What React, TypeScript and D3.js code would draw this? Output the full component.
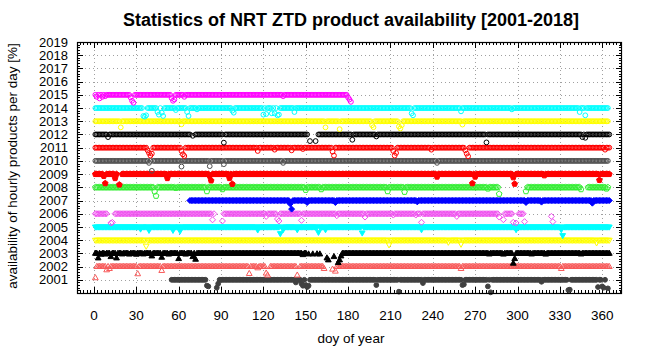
import React from 'react';
import * as d3 from 'd3';

// ---------- data ----------
const years = [2001, 2002, 2003, 2004, 2005, 2006, 2007, 2008, 2009, 2010, 2011, 2012, 2013, 2014, 2015];
const xTicks = [0, 30, 60, 90, 120, 150, 180, 210, 240, 270, 300, 330, 360];
const yTicks = [2001, 2002, 2003, 2004, 2005, 2006, 2007, 2008, 2009, 2010, 2011, 2012, 2013, 2014, 2015, 2016, 2017, 2018, 2019];

// runs of days with 100% availability [firstDay, lastDay]
const full2001 = [[55, 80], [89, 362]];
const full2002 = [[2, 121], [125, 143], [146, 162], [172, 365]];
const full2003 = [[1, 150], [176, 365]];
const full2004 = [[1, 365]];
const full2005 = [[1, 365]];
const full2006 = [[1, 9], [15, 85], [91, 287], [291, 296], [301, 304]];
const full2007 = [[68, 365]];
const full2008 = [[1, 287], [306, 345], [350, 364]];
const full2009 = [[1, 16], [20, 365]];
const full2010 = [[1, 364]];
const full2011 = [[1, 365]];
const full2012 = [[1, 68], [72, 151], [159, 365]];
const full2013 = [[1, 364]];
const full2014 = [[1, 364]];
const full2015 = [[1, 182]];

// days with reduced availability [day, percent]
const dips2001 = [[80, 56], [81, 50], [87, 40], [88, 70], [143, 80], [147, 70], [148, 55], [150, 60], [151, 45], [152, 55], [200, 60], [216, 10], [233, 75], [261, 60], [262, 65], [279, 50], [281, 5], [317, 85], [336, 22], [337, 25], [357, 45], [360, 50], [361, 40], [364, 35]];
const dips2002 = [[1, 15], [9, 75], [11, 85], [31, 45], [48, 70], [110, 47], [116, 90], [122, 50], [123, 35], [144, 35], [163, 85], [169, 80], [171, 65], [260, 85], [331, 85]];
const dips2003 = [[3, 65], [5, 93], [8, 94], [12, 75], [16, 65], [20, 95], [25, 94], [30, 93], [35, 95], [41, 80], [48, 70], [53, 94], [60, 60], [65, 94], [70, 75], [72, 55], [148, 90], [152, 95], [155, 95], [158, 96], [160, 95], [165, 65], [166, 50], [170, 75], [173, 30], [174, 50], [175, 80], [280, 95], [290, 94], [297, 25], [298, 60], [310, 95], [320, 94], [345, 95]];
const dips2004 = [[37, 55], [209, 65], [251, 85], [260, 70], [356, 80]];
const dips2005 = [[33, 85], [39, 75], [56, 75], [61, 70], [116, 78], [132, 50], [134, 80], [144, 80], [159, 60], [164, 80], [190, 55], [232, 80], [299, 80], [331, 80], [332, 35]];
const dips2006 = [[12, 30], [13, 35], [84, 54], [91, 45], [122, 80], [130, 60], [131, 45], [147, 50], [172, 85], [192, 75], [212, 90], [228, 90], [232, 35], [257, 80], [287, 75], [290, 55], [297, 35], [299, 30], [305, 40], [324, 80], [325, 40]];
const dips2007 = [[139, 75], [140, 35], [151, 85], [171, 85], [229, 90], [306, 85], [317, 88], [353, 80]];
const dips2008 = [[43, 68], [44, 35], [58, 95], [80, 70], [91, 85], [150, 80], [161, 85], [208, 70], [220, 65], [279, 90], [287, 50], [306, 70], [345, 85], [363, 90]];
const dips2009 = [[7, 85], [8, 30], [15, 69], [18, 20], [52, 69], [82, 85], [83, 51], [96, 69], [98, 25], [243, 80], [268, 30], [270, 80], [297, 75], [298, 26], [319, 90], [358, 55]];
const dips2010 = [[39, 85], [41, 25], [62, 57], [82, 60], [92, 75], [134, 85], [243, 85]];
const dips2011 = [[38, 80], [39, 60], [40, 40], [41, 55], [62, 75], [63, 50], [64, 37], [116, 75], [128, 85], [140, 80], [148, 90], [169, 70], [170, 40], [212, 75], [213, 40], [214, 60], [239, 85], [263, 80], [264, 55], [265, 35], [362, 85]];
const dips2012 = [[10, 80], [70, 90], [92, 38], [153, 50], [157, 50], [183, 60], [200, 85], [278, 40], [346, 80], [348, 75]];
const dips2013 = [[19, 54], [62, 77], [164, 54], [174, 40], [197, 70], [198, 55], [216, 60], [217, 45], [218, 70], [261, 75]];
const dips2014 = [[35, 40], [36, 35], [37, 45], [45, 70], [46, 50], [48, 65], [49, 40], [58, 85], [66, 70], [67, 40], [73, 90], [98, 80], [99, 65], [120, 50], [122, 55], [126, 60], [128, 60], [130, 45], [131, 50], [142, 70], [225, 60], [226, 45], [260, 75], [296, 90], [344, 70], [348, 45]];
const dips2015 = [[2, 85], [4, 73], [6, 85], [8, 90], [26, 80], [27, 55], [28, 40], [55, 75], [56, 55], [57, 65], [64, 85], [134, 90], [180, 80], [181, 65], [182, 47]];

const fullRuns: Record<number, number[][]> = {
  2001: full2001, 2002: full2002, 2003: full2003, 2004: full2004, 2005: full2005,
  2006: full2006, 2007: full2007, 2008: full2008, 2009: full2009, 2010: full2010,
  2011: full2011, 2012: full2012, 2013: full2013, 2014: full2014, 2015: full2015,
};
const dips: Record<number, number[][]> = {
  2001: dips2001, 2002: dips2002, 2003: dips2003, 2004: dips2004, 2005: dips2005,
  2006: dips2006, 2007: dips2007, 2008: dips2008, 2009: dips2009, 2010: dips2010,
  2011: dips2011, 2012: dips2012, 2013: dips2013, 2014: dips2014, 2015: dips2015,
};

// ---------- styles ----------
const style: Record<number, { color: string; shape: string; filled: boolean }> = {
  2001: { color: '#404040', shape: 'circle', filled: true },
  2002: { color: '#f85a5a', shape: 'tri', filled: false },
  2003: { color: '#000000', shape: 'tri', filled: true },
  2004: { color: '#ffff00', shape: 'tridown', filled: false },
  2005: { color: '#00ffff', shape: 'tridown', filled: true },
  2006: { color: '#f050f0', shape: 'diamond', filled: false },
  2007: { color: '#0000ff', shape: 'diamond', filled: true },
  2008: { color: '#33ee33', shape: 'pent', filled: false },
  2009: { color: '#ff0000', shape: 'pent', filled: true },
  2010: { color: '#505050', shape: 'circle', filled: false },
  2011: { color: '#ff0000', shape: 'circle', filled: false },
  2012: { color: '#000000', shape: 'circle', filled: false },
  2013: { color: '#ffff00', shape: 'circle', filled: false },
  2014: { color: '#00ffff', shape: 'circle', filled: false },
  2015: { color: '#ff00ff', shape: 'circle', filled: false },
};

const L = 77, R = 622, T = 42, B = 293;
const FONT = '"Liberation Sans", Arial, Helvetica, sans-serif';

function shapePath(shape: string): string {
  if (shape === 'circle') {
    const r = 2.4;
    return `M${-r},0A${r},${r} 0 1,0 ${r},0A${r},${r} 0 1,0 ${-r},0Z`;
  }
  if (shape === 'tri') {
    const s = 3.2;
    return `M0,${-s}L${s * 0.9},${s * 0.6}L${-s * 0.9},${s * 0.6}Z`;
  }
  if (shape === 'tridown') {
    const s = 3.2;
    return `M0,${s}L${s * 0.9},${-s * 0.6}L${-s * 0.9},${-s * 0.6}Z`;
  }
  if (shape === 'diamond') {
    const s = 3;
    return `M0,${-s}L${s},0L0,${s}L${-s},0Z`;
  }
  // pentagon
  const r = 3;
  const pts = d3.range(5).map((i) => {
    const a = -Math.PI / 2 + (i * 2 * Math.PI) / 5;
    return [r * Math.cos(a), r * Math.sin(a)];
  });
  return 'M' + pts.map((p) => p[0].toFixed(2) + ',' + p[1].toFixed(2)).join('L') + 'Z';
}

function seriesPoints(year: number): [number, number][] {
  const m = new Map<number, number>();
  for (const [a, b] of fullRuns[year]) for (let d = a; d <= b; d++) m.set(d, 100);
  for (const [d, p] of dips[year]) m.set(d, p);
  return Array.from(m.entries()).sort((p, q) => p[0] - q[0]);
}

export default function App() {
  const x = d3.scaleLinear().domain([-12, 374]).range([L, R]);
  const y = d3.scaleLinear().domain([2000, 2019]).range([B, T]);

  const xMinor = d3.range(-10, 374, 2.5);
  const yMinor = d3.range(2000, 2019.001, 0.2);

  return (
    <svg width={647} height={352} style={{ display: 'block', position: 'absolute', left: 0, top: 0, background: '#fff' }}>
      <rect x={0} y={0} width={647} height={352} fill="#fff" />
      {/* grid */}
      {xTicks.map((t) => (
        <line key={'gx' + t} x1={Math.round(x(t)) + 0.5} x2={Math.round(x(t)) + 0.5} y1={T} y2={B} stroke="#a0a0a0" strokeDasharray="1,3" strokeWidth={1} />
      ))}
      {yTicks.filter((t) => t < 2019).map((t) => (
        <line key={'gy' + t} x1={L} x2={R} y1={Math.round(y(t)) + 0.5} y2={Math.round(y(t)) + 0.5} stroke="#a0a0a0" strokeDasharray="1,3" strokeWidth={1} />
      ))}
      {/* minor ticks */}
      {xMinor.map((t, i) => (
        <g key={'mx' + i}>
          <line x1={Math.round(x(t)) + 0.5} x2={Math.round(x(t)) + 0.5} y1={B} y2={B - 3} stroke="#000" strokeWidth={1} />
          <line x1={Math.round(x(t)) + 0.5} x2={Math.round(x(t)) + 0.5} y1={T} y2={T + 3} stroke="#000" strokeWidth={1} />
        </g>
      ))}
      {yMinor.map((t, i) => (
        <g key={'my' + i}>
          <line x1={L} x2={L + 3} y1={Math.round(y(t)) + 0.5} y2={Math.round(y(t)) + 0.5} stroke="#000" strokeWidth={1} />
          <line x1={R} x2={R - 3} y1={Math.round(y(t)) + 0.5} y2={Math.round(y(t)) + 0.5} stroke="#000" strokeWidth={1} />
        </g>
      ))}
      {/* major ticks */}
      {xTicks.map((t) => (
        <g key={'tx' + t}>
          <line x1={Math.round(x(t)) + 0.5} x2={Math.round(x(t)) + 0.5} y1={B} y2={B - 6} stroke="#000" />
          <line x1={Math.round(x(t)) + 0.5} x2={Math.round(x(t)) + 0.5} y1={T} y2={T + 6} stroke="#000" />
          <text x={x(t)} y={320} textAnchor="middle" fontFamily={FONT} fontSize={13.5} fill="#000">{t}</text>
        </g>
      ))}
      {yTicks.map((t) => (
        <g key={'ty' + t}>
          <line x1={L} x2={L + 6} y1={Math.round(y(t)) + 0.5} y2={Math.round(y(t)) + 0.5} stroke="#000" />
          <line x1={R} x2={R - 6} y1={Math.round(y(t)) + 0.5} y2={Math.round(y(t)) + 0.5} stroke="#000" />
          <text x={68} y={y(t) + 4.6} textAnchor="end" fontFamily={FONT} fontSize={13} fill="#000">{t}</text>
        </g>
      ))}
      {/* data */}
      {years.map((yr) => {
        const st = style[yr];
        const p = shapePath(st.shape);
        const pts = seriesPoints(yr);
        return (
          <g key={'s' + yr}>
            {pts.map(([d, v]) => (
              <path
                key={d}
                d={p}
                transform={`translate(${x(d).toFixed(2)},${y(yr - 1 + v / 100).toFixed(2)})`}
                fill={st.filled ? st.color : 'none'}
                stroke={st.color}
                strokeWidth={1}
              />
            ))}
          </g>
        );
      })}
      {/* border */}
      <rect x={L + 0.5} y={T + 0.5} width={R - L - 1} height={B - T} fill="none" stroke="#000" strokeWidth={1.2} />
      {/* labels */}
      <text x={351} y={26} textAnchor="middle" fontFamily={FONT} fontWeight="bold" fontSize={18} fill="#000">
        Statistics of NRT ZTD product availability [2001-2018]
      </text>
      <text x={351} y={343} textAnchor="middle" fontFamily={FONT} fontSize={13.5} fill="#000">doy of year</text>
      <text transform="translate(17,166) rotate(-90)" textAnchor="middle" fontFamily={FONT} fontSize={13.5} fill="#000">
        availability of hourly products per day [%]
      </text>
    </svg>
  );
}
